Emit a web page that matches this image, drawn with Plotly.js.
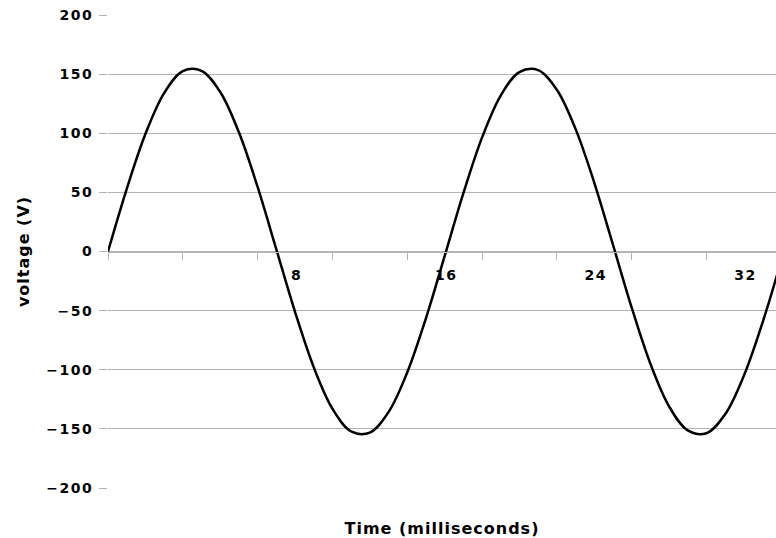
<!DOCTYPE html>
<html>
<head>
<meta charset="utf-8">
<script src="https://cdn.plot.ly/plotly-3.0.1.min.js"></script>
<style>
html,body{margin:0;padding:0;background:#fff;}
#chart{width:776px;height:538px;}
#chart .xtick text, #chart .ytick text{letter-spacing:1.5px;}
#chart .ytitle, #chart .annotation-text{letter-spacing:1px;}
</style>
</head>
<body>
<div id="chart"></div>
<script>
// Time in milliseconds
var timeMs = [0,1,2,3,4,5,6,7,8,9,10,11,12,13,14,15,16,17,18,19,20,21,22,23,24,25,26,27,28,29,30,31,32,33,34,35,36];
// Voltage in volts
var voltage = [0,52.8,99.3,133.9,152.5,152.8,134.9,100.8,54.6,1.9,-51.0,-97.8,-132.9,-152.1,-153.1,-135.8,-102.3,-56.5,-3.9,49.1,96.3,131.9,151.7,153.4,136.8,103.7,58.3,5.8,-47.3,-94.8,-130.9,-151.3,-153.7,-137.7,-105.1,-60.1,-7.8];
var xTickVals = [8,16,24,32];
var xTickText = ['8','16','24','32'];
var yTickVals = [-200,-150,-100,-50,0,50,100,150,200];
var yTickText = ['\u2212200','\u2212150','\u2212100','\u221250','0','50','100','150','200'];

var FONT = '"DejaVu Sans", sans-serif';
var GRID = '#b4b4b4';

var trace = {
  x: timeMs, y: voltage, type: 'scatter', mode: 'lines',
  line: {color: '#000', width: 2.5, shape: 'spline', smoothing: 1},
  hoverinfo: 'skip', showlegend: false
};

var tickFont = {family: FONT, size: 14, color: '#000', weight: 'bold'};
var titleFont = {family: FONT, size: 16, color: '#000', weight: 'bold'};

var layout = {
  width: 776, height: 538,
  margin: {l: 108, r: 0, t: 15, b: 50, pad: 0},
  paper_bgcolor: '#fff', plot_bgcolor: '#fff',
  font: tickFont,
  xaxis: {
    range: [0, 35.72], anchor: 'free', position: 0.5,
    showgrid: false, zeroline: false,
    showline: true, linecolor: GRID, linewidth: 1,
    tickmode: 'array', tickvals: xTickVals, ticktext: xTickText,
    ticks: 'outside', ticklen: 7, tickcolor: GRID, tickwidth: 1,
    ticklabelshift: 39, ticklabelstandoff: 4,
    minor: {dtick: 4, tick0: 0, ticks: 'outside', ticklen: 7, tickcolor: GRID, tickwidth: 1, showgrid: false},
    tickfont: tickFont,
    fixedrange: true
  },
  yaxis: {
    range: [-200, 200], showgrid: true, gridcolor: GRID, gridwidth: 1,
    zeroline: false, showline: false,
    tickmode: 'array', tickvals: yTickVals, ticktext: yTickText,
    ticks: 'outside', ticklen: 8, tickcolor: GRID, tickwidth: 1,
    ticklabelstandoff: 3,
    tickfont: tickFont,
    title: {text: 'voltage (V)', font: titleFont, standoff: 18},
    fixedrange: true
  },
  annotations: [{
    text: 'Time (milliseconds)', xref: 'paper', yref: 'paper', x: 0.5, y: 0,
    xanchor: 'center', yanchor: 'middle', yshift: -40, showarrow: false,
    font: titleFont
  }]
};

Plotly.newPlot('chart', [trace], layout, {staticPlot: true, displayModeBar: false});
</script>
</body>
</html>
